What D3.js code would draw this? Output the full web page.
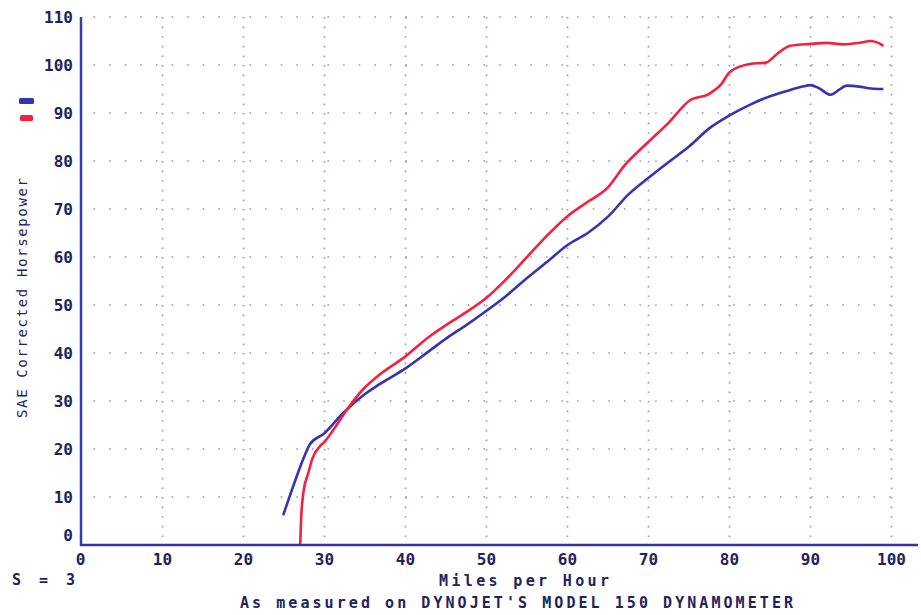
<!DOCTYPE html>
<html>
<head>
<meta charset="utf-8">
<script src="https://cdn.jsdelivr.net/npm/d3@7"></script>
<style>
  body { margin: 0; background: #fff; }
  svg { display: block; }
  .lbl { font-family: "DejaVu Sans Mono", monospace; fill: #22225c; }
</style>
</head>
<body>
<div class="wrapper"></div>
<script>
// tick values
var xTicks = [0, 10, 20, 30, 40, 50, 60, 70, 80, 90, 100];
var yTicks = [0, 10, 20, 30, 40, 50, 60, 70, 80, 90, 100, 110];

// run 1 (blue) - mph / horsepower
var blueMph = [24.9, 26.4, 27.4, 28.2, 30, 32.3, 34.8, 36.8, 40, 43, 45, 47.5, 50, 52.5, 55, 57.5, 60, 62.5, 65, 67.5, 70, 72.5, 75, 77.5, 80, 82.5, 85, 87.5, 89, 90, 91, 92.5, 93.5, 94.5, 96, 97.5, 99];
var blueHp = [6.2, 13.5, 18, 21, 23.3, 27.5, 31.2, 33.5, 36.8, 40.5, 43, 45.8, 48.8, 52, 55.6, 59, 62.5, 65, 68.4, 73, 76.5, 79.8, 83, 86.8, 89.5, 91.7, 93.5, 94.8, 95.5, 95.8, 95.2, 93.8, 94.8, 95.7, 95.5, 95.1, 95];

// run 2 (red)
var redMph = [27.0, 27.1, 27.4, 28.0, 28.5, 29.4, 30, 31.5, 32.9, 34.8, 36.8, 40, 43, 45, 47.5, 50, 52.5, 55, 57.5, 60, 62.5, 65, 67, 70, 72.5, 75, 77.5, 79, 80, 82.5, 84.5, 86, 87.5, 90, 92, 94, 96, 97.5, 98.5, 99];
var redHp = [0, 5, 11, 15, 18, 20.5, 21.5, 25, 28.5, 32.5, 35.5, 39.3, 43.5, 45.8, 48.5, 51.5, 55.5, 60, 64.5, 68.5, 71.5, 74.5, 79, 84, 88, 92.5, 94, 96, 98.5, 100.2, 100.5, 102.5, 104, 104.4, 104.6, 104.3, 104.6, 105, 104.5, 104];

var series = [
  { name: "blue", color: "#3434b4", mph: blueMph, hp: blueHp },
  { name: "red", color: "#f5203e", mph: redMph, hp: redHp }
];

var width = 921, height = 615;
var svg = d3.select(".wrapper").append("svg")
  .attr("width", width)
  .attr("height", height);

var x = d3.scaleLinear().domain([0, 100]).range([81.5, 891.5]);
var y = d3.scaleLinear().domain([0, 110]).range([545, 17]);
var right = 918;

// dotted grid
svg.append("g")
  .selectAll("line")
  .data(yTicks.filter(function(d) { return d > 0; }))
  .enter().append("line")
    .attr("x1", x(0) + 12)
    .attr("x2", right - 14)
    .attr("y1", function(d) { return y(d); })
    .attr("y2", function(d) { return y(d); })
    .attr("stroke", "#6f6fb0")
    .attr("stroke-opacity", 0.75)
    .attr("stroke-width", 1.6)
    .attr("stroke-dasharray", "1.6,14");

svg.append("g")
  .selectAll("line")
  .data(xTicks.filter(function(d) { return d > 0; }))
  .enter().append("line")
    .attr("x1", function(d) { return x(d); })
    .attr("x2", function(d) { return x(d); })
    .attr("y1", y(110))
    .attr("y2", y(0) - 4)
    .attr("stroke", "#6f6fb0")
    .attr("stroke-opacity", 0.75)
    .attr("stroke-width", 1.6)
    .attr("stroke-dasharray", "1.6,8");

// curves
var line = d3.line()
  .x(function(d) { return x(d[0]); })
  .y(function(d) { return y(d[1]); })
  .curve(d3.curveMonotoneX);

series.forEach(function(s) {
  var pts = s.mph.map(function(m, i) { return [m, s.hp[i]]; });
  svg.append("path")
    .datum(pts)
    .attr("fill", "none")
    .attr("stroke", s.color)
    .attr("stroke-width", 2.6)
    .attr("stroke-linejoin", "round")
    .attr("d", line);
});

// axes lines
svg.append("line")
  .attr("x1", 81).attr("x2", 81)
  .attr("y1", y(110)).attr("y2", y(0) + 1)
  .attr("stroke", "#3a3ab0")
  .attr("stroke-width", 2.5);
svg.append("line")
  .attr("x1", 80).attr("x2", right)
  .attr("y1", y(0)).attr("y2", y(0))
  .attr("stroke", "#34349a")
  .attr("stroke-width", 2.5);

// tick labels
svg.append("g")
  .selectAll("text")
  .data(yTicks)
  .enter().append("text")
    .attr("class", "lbl")
    .attr("x", 73)
    .attr("y", function(d) { return d == 0 ? y(d) - 10 : y(d); })
    .attr("dy", "0.35em")
    .attr("text-anchor", "end")
    .attr("font-size", 16)
    .attr("font-weight", "bold")
    .text(function(d) { return d; });

svg.append("g")
  .selectAll("text")
  .data(xTicks)
  .enter().append("text")
    .attr("class", "lbl")
    .attr("x", function(d) { return d == 0 ? x(d) - 1 : x(d); })
    .attr("y", 559)
    .attr("dy", "0.35em")
    .attr("text-anchor", "middle")
    .attr("font-size", 16)
    .attr("font-weight", "bold")
    .text(function(d) { return d; });

// titles
svg.append("text")
  .attr("class", "lbl")
  .attr("transform", "translate(27,298) rotate(-90)")
  .attr("text-anchor", "middle")
  .attr("font-size", 14)
  .attr("textLength", 240)
  .attr("lengthAdjust", "spacing")
  .text("SAE Corrected Horsepower");

svg.append("text")
  .attr("class", "lbl")
  .attr("x", 524).attr("y", 581)
  .attr("dy", "0.35em")
  .attr("text-anchor", "middle")
  .attr("font-size", 15)
  .attr("font-weight", "bold")
  .attr("textLength", 170)
  .attr("lengthAdjust", "spacing")
  .text("Miles per Hour");

svg.append("text")
  .attr("class", "lbl")
  .attr("x", 240).attr("y", 603)
  .attr("dy", "0.35em")
  .attr("font-size", 15)
  .attr("font-weight", "bold")
  .attr("textLength", 553)
  .attr("lengthAdjust", "spacing")
  .text("As measured on DYNOJET'S MODEL 150 DYNAMOMETER");

svg.append("text")
  .attr("class", "lbl")
  .attr("x", 12).attr("y", 580)
  .attr("dy", "0.35em")
  .attr("font-size", 15)
  .attr("font-weight", "bold")
  .attr("textLength", 63)
  .attr("lengthAdjust", "spacing")
  .text("S = 3");

// legend swatches
svg.append("g")
  .selectAll("rect")
  .data(series)
  .enter().append("rect")
    .attr("x", function(d, i) { return i == 0 ? 19 : 20; })
    .attr("y", function(d, i) { return i == 0 ? 98 : 115; })
    .attr("width", function(d, i) { return i == 0 ? 15 : 13; })
    .attr("height", 6)
    .attr("rx", 1.5)
    .attr("fill", function(d) { return d.color; });
</script>
</body>
</html>
